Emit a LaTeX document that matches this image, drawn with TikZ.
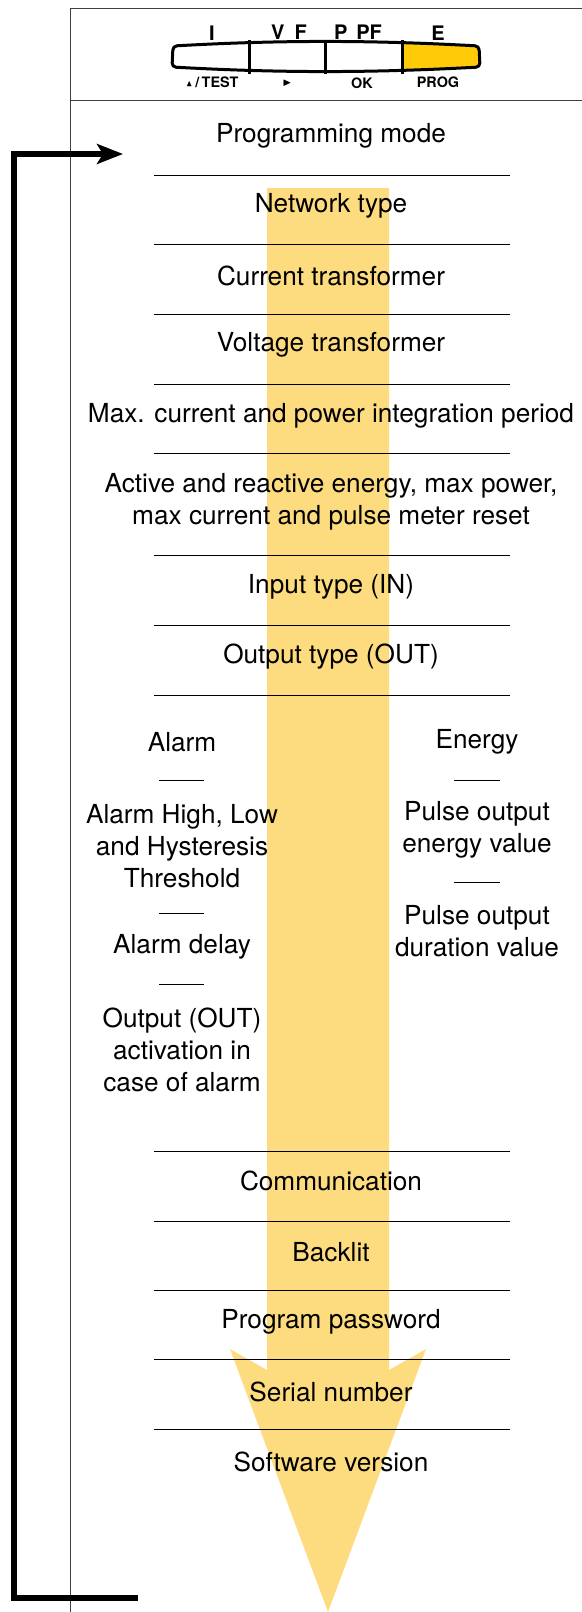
\documentclass[tikz,border=0pt]{standalone}
\usepackage{amssymb}
\usepackage{fontspec}
\setmainfont{TeX Gyre Heros}
\usetikzlibrary{arrows.meta,positioning}

\definecolor{flowyellow}{HTML}{FDDC80}
\definecolor{keyyellow}{HTML}{FFCA08}

\begin{document}
\begin{tikzpicture}[x=0.5pt, y=-0.5pt,
                    every node/.style={inner sep=0pt},
                    menu/.style={font=\fontsize{13.1}{16}\selectfont, align=center},
                    keytop/.style={font=\fontsize{10}{10}\selectfont\bfseries},
                    keybot/.style={font=\fontsize{7.2}{7}\selectfont\bfseries},
                    sep/.style={line width=0.5pt},
                    frame/.style={line width=0.5pt, black!75}]
    %\draw[help lines] (0,0) grid[step=50] (582,1612);
   \useasboundingbox (0,0) rectangle (582,1612);

   % big yellow arrow behind everything
   \fill[flowyellow] (267,188) -- (389,188) -- (389,1370) -- (426,1349)
        -- (328,1612) -- (230,1349) -- (267,1370) -- cycle;

   % frame
   \draw[frame] (70,1612) -- (70,8) -- (582,8);
   \draw[frame] (70,100) -- (582,100);

   % keypad
   \begin{scope}
     \clip (173,46) .. controls (280,40) and (370,40) .. (479,46) -- (480,67)
        .. controls (370,73) and (280,73) .. (172,67) -- cycle;
     \fill[keyyellow] (402,30) rectangle (490,80);
   \end{scope}
   \draw[line width=1.5pt, rounded corners=2pt] (173,46) .. controls (280,40) and (370,40) .. (479,46)
        -- (480,67) .. controls (370,73) and (280,73) .. (172,67) -- cycle;
   \foreach \x in {249,325,402}
     \draw[line width=1.5pt] (\x,40) -- (\x,74);

   \node[keytop] (keyI)  at (212,33) {I};
   \node[keytop] (keyVF) at (289,32) {V\hspace{5pt}F};
   \node[keytop] (keyPF) at (358,32) {P\hspace{4.5pt}PF};
   \node[keytop] (keyE)  at (438,33) {E};
   \node[keybot] (keyup)   at (212,82) {\raisebox{0.4pt}{\fontsize{4.2}{4}\selectfont$\blacktriangle$}\,/\,TEST};
   \node[keybot] (keyright) at (287,83) {\fontsize{4.6}{4}\selectfont$\blacktriangleright$};
   \node[keybot] (keyok)  at (362,83) {OK};
   \node[keybot] (keyprog) at (438,82) {PROG};

   % menu entries
   \node[menu] (prog)    at (331,136)  {Programming mode};
   \node[menu] (network) at (331,206)  {Network type};
   \node[menu] (ct)      at (331,276)  {Current transformer};
   \node[menu] (vt)      at (331,345)  {Voltage transformer};
   \node[menu] (period)  at (331,416)  {Max. current and power integration period};
   \node[menu] (reset)   at (331,502)  {Active and reactive energy, max power,\\max current and pulse meter reset};
   \node[menu] (input)   at (331,587)  {Input type (IN)};
   \node[menu] (output)  at (331,657)  {Output type (OUT)};

   \node[menu] (alarm)   at (182,742)  {Alarm};
   \node[menu] (thresh)  at (182,846)  {Alarm High, Low\\and Hysteresis\\Threshold};
   \node[menu] (delay)   at (182,947)  {Alarm delay};
   \node[menu] (act)     at (182,1050) {Output (OUT)\\activation in\\case of alarm};

   \node[menu] (energy)  at (477,742)  {Energy};
   \node[menu] (pvalue)  at (477,830)  {Pulse output\\energy value};
   \node[menu] (pdur)    at (477,931)  {Pulse output\\duration value};

   \node[menu] (comm)    at (331,1181) {Communication};
   \node[menu] (backlit) at (331,1252) {Backlit};
   \node[menu] (pwd)     at (331,1322) {Program password};
   \node[menu] (serial)  at (331,1392) {Serial number};
   \node[menu] (soft)    at (331,1462) {Software version};

   % separators
   \foreach \y in {175,244,314,384,453,555,625,695,1151,1221,1290,1359,1429}
     \draw[sep] (154,\y) -- (510,\y);
   \foreach \y in {780,913,984}
     \draw[sep] (159,\y) -- (204,\y);
   \foreach \y in {780,882}
     \draw[sep] (454,\y) -- (500,\y);

   % loop back
   \coordinate (loopstart) at (138,1598);
   \coordinate (loopend)   at (123,154);
   \draw[line width=2.6pt, -{Stealth[length=13pt,width=10pt,inset=3pt]}]
     (loopstart) -- (14,1598) |- (loopend);

\end{tikzpicture}
\end{document}
